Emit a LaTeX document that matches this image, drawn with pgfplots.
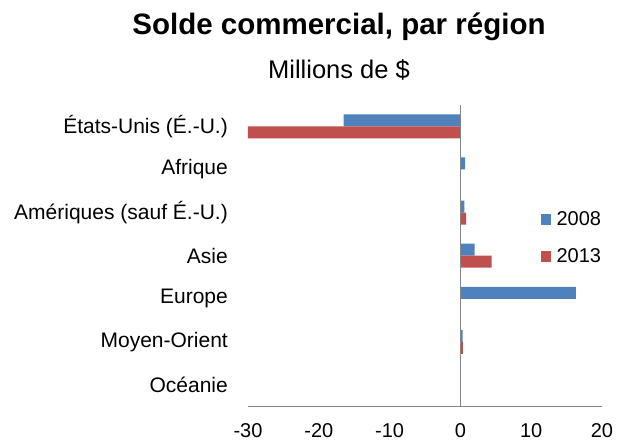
\documentclass[border=0pt]{standalone}
\usepackage{fontspec}
\setmainfont{Liberation Sans}
\usepackage{pgfplots}
\pgfplotsset{compat=1.18}
\definecolor{bar08}{HTML}{4F81BD}
\definecolor{bar13}{HTML}{C0504D}
\definecolor{axisgray}{HTML}{868686}

\begin{document}
\begin{tikzpicture}
\useasboundingbox (-248pt,-34.3pt) rectangle (375pt,406.7pt);
\begin{axis}[
  at={(0,0)}, anchor=south west,
  scale only axis,
  width=354pt, height=302pt,
  xbar, bar width=12pt,
  xmin=-30, xmax=20,
  ymin=-0.5, ymax=6.5,
  xtick={-30,-20,-10,0,10,20},
  xticklabels={-30,-20,-10,0,10,20},
  ytick={0,1,2,3,4,5,6},
  yticklabels={Océanie, Moyen-Orient, Europe, Asie, Amériques (sauf É.-U.), Afrique, États-Unis (É.-U.)},
  axis x line*=bottom,
  axis y line*=left,
  x axis line style={draw=axisgray, line width=1.2pt, -},
  y axis line style={draw=none},
  major tick length=0pt,
  tick style={draw=none},
  x tick label style={font=\fontsize{20}{22}\selectfont, anchor=base, inner sep=0pt, yshift=-30.8pt},
  y tick label style={font=\fontsize{21}{24}\selectfont, anchor=east, inner sep=0pt, xshift=-20pt},
  clip=false,
  legend style={at={(0.8263,0.558)}, anchor=west, draw=none, fill=none,
    font=\fontsize{20}{24}\selectfont, row sep=17.5pt, column sep=3pt, inner sep=0pt,
    nodes={inner xsep=2.2pt, inner ysep=2pt}},
  legend cell align=left,
  legend image code/.code={\fill[#1] (0pt,-5.3pt) rectangle (10.7pt,5.4pt);},
]
\addplot[fill=bar08, draw=none, bar shift=6pt] coordinates {
  (-16.5,6) (0.65,5) (0.55,4) (2.0,3) (16.3,2) (0.3,1) (0.05,0)};
\addplot[fill=bar13, draw=none, bar shift=-6pt] coordinates {
  (-30,6) (0,5) (0.8,4) (4.4,3) (0,2) (0.35,1) (0.05,0)};
\legend{2008, 2013}
\draw[axisgray, line width=1.5pt] (axis cs:0,-0.5) -- (axis cs:0,6.5);
\end{axis}
\node[anchor=base, font=\bfseries\fontsize{29.5}{34}\selectfont] at (91pt,372.4pt) {Solde commercial, par région};
\node[anchor=base, font=\fontsize{25.5}{30}\selectfont] at (91pt,327.7pt) {Millions de \$};
\end{tikzpicture}
\end{document}
